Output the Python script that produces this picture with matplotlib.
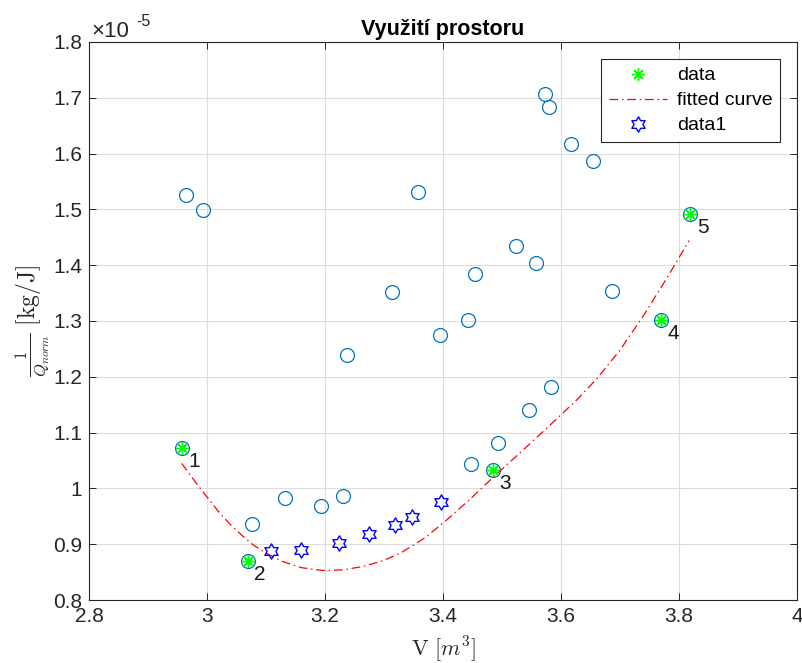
#!/usr/bin/env python3
"""Space utilisation chart: 1/Q_norm against volume."""

import matplotlib

matplotlib.use("Agg")
import matplotlib.pyplot as plt
from matplotlib.path import Path

# all y values in units of 1e-5 kg/J
all_v = [2.964, 2.993, 2.957, 3.069, 3.077, 3.132, 3.193, 3.230, 3.238, 3.313,
         3.358, 3.395, 3.442, 3.454, 3.448, 3.485, 3.493, 3.523, 3.546, 3.557,
         3.572, 3.580, 3.583, 3.617, 3.654, 3.687, 3.770, 3.819]
all_q = [1.525, 1.498, 1.073, 0.870, 0.936, 0.982, 0.969, 0.986, 1.239, 1.352,
         1.532, 1.275, 1.302, 1.384, 1.044, 1.033, 1.082, 1.434, 1.141, 1.404,
         1.707, 1.684, 1.181, 1.617, 1.587, 1.353, 1.301, 1.491]

front_v = [2.957, 3.069, 3.485, 3.770, 3.819]
front_q = [1.073, 0.870, 1.033, 1.301, 1.491]
front_labels = ["1", "2", "3", "4", "5"]

# fitted curve
fit_v = [2.957, 2.980, 3.002, 3.020, 3.038, 3.058, 3.078, 3.100, 3.128, 3.160,
         3.196, 3.230, 3.264, 3.300, 3.331, 3.370, 3.408, 3.444, 3.486, 3.540,
         3.590, 3.630, 3.661, 3.700, 3.740, 3.780, 3.817]
fit_q = [1.045, 1.012, 0.982, 0.958, 0.937, 0.917, 0.899, 0.884, 0.869, 0.858,
         0.853, 0.854, 0.860, 0.871, 0.886, 0.912, 0.945, 0.979, 1.021, 1.073,
         1.122, 1.162, 1.197, 1.248, 1.310, 1.378, 1.444]

data1_v = [3.108, 3.160, 3.223, 3.274, 3.318, 3.348, 3.397]
data1_q = [0.888, 0.890, 0.903, 0.918, 0.934, 0.949, 0.976]

x_ticks = [2.8, 3.0, 3.2, 3.4, 3.6, 3.8, 4.0]
y_ticks = [0.8, 0.9, 1.0, 1.1, 1.2, 1.3, 1.4, 1.5, 1.6, 1.7, 1.8]

plt.rcParams["font.family"] = ["Liberation Sans", "DejaVu Sans"]
plt.rcParams["mathtext.fontset"] = "cm"

AX_GRAY = "#262626"
hexagram = Path.unit_regular_star(6, 0.577)

fig = plt.figure(figsize=(8.03, 6.63), dpi=100)
ax = fig.add_axes([0.1108, 0.095, 0.8818, 0.8417])

ax.plot(all_v, all_q, "o", color="#0072BD", markerfacecolor="none",
        markersize=10, markeredgewidth=0.9, zorder=3)
ax.plot(front_v, front_q, linestyle="none", marker=(8, 2, 0), color="#00FF00",
        markersize=9, markeredgewidth=1.0, label="data", zorder=4)
ax.plot(fit_v, fit_q, color="#FF0000", linestyle=(0, (7, 3, 1.2, 3)),
        linewidth=0.9, label="fitted curve", zorder=3)
ax.plot(data1_v, data1_q, linestyle="none", marker=hexagram, color="#0000FF",
        markerfacecolor="none", markersize=11, markeredgewidth=1.0,
        label="data1", zorder=3)

for v, q, lab in zip(front_v, front_q, front_labels):
    ax.text(v + 0.011, q - 0.024, lab, fontsize=15, color="#1a1a1a",
            ha="left", va="center", zorder=5)

ax.set_xlim(2.8, 4.0)
ax.set_ylim(0.8, 1.8)
ax.set_xticks(x_ticks)
ax.set_yticks(y_ticks)
ax.set_xticklabels([f"{t:g}" for t in x_ticks])
ax.set_yticklabels([f"{t:g}" for t in y_ticks])
ax.grid(True, color="#dcdcdc", linewidth=0.8)
ax.set_axisbelow(True)
ax.tick_params(direction="in", top=True, right=True, length=5, width=0.7,
               colors=AX_GRAY, labelsize=15, pad=5)
for spine in ax.spines.values():
    spine.set_color(AX_GRAY)
    spine.set_linewidth(0.8)

ax.set_title("Využití prostoru", fontsize=15.5, fontweight="bold", pad=5)
ax.set_xlabel(r"$\mathrm{V}\ [m^3]$", fontsize=16, color=AX_GRAY, labelpad=6)
ax.set_ylabel(r"$\frac{1}{Q_{norm}}\ [\mathrm{kg/J}]$", fontsize=17,
              color=AX_GRAY, labelpad=1)

ax.annotate("×10", xy=(0, 1), xycoords="axes fraction", xytext=(2, 0),
            textcoords="offset points", fontsize=16, color=AX_GRAY,
            ha="left", va="bottom")
ax.annotate("-5", xy=(0, 1), xycoords="axes fraction", xytext=(34, 9),
            textcoords="offset points", fontsize=11.5, color=AX_GRAY,
            ha="left", va="bottom")

leg = ax.legend(loc="upper right", bbox_to_anchor=(0.976, 0.9695),
                borderaxespad=0, fontsize=14, fancybox=False,
                framealpha=1, edgecolor=AX_GRAY, handlelength=3.0,
                handletextpad=0.5, labelspacing=0.38, borderpad=0.4)
leg.get_frame().set_linewidth(0.8)

fig.savefig("out.png", dpi=100)
